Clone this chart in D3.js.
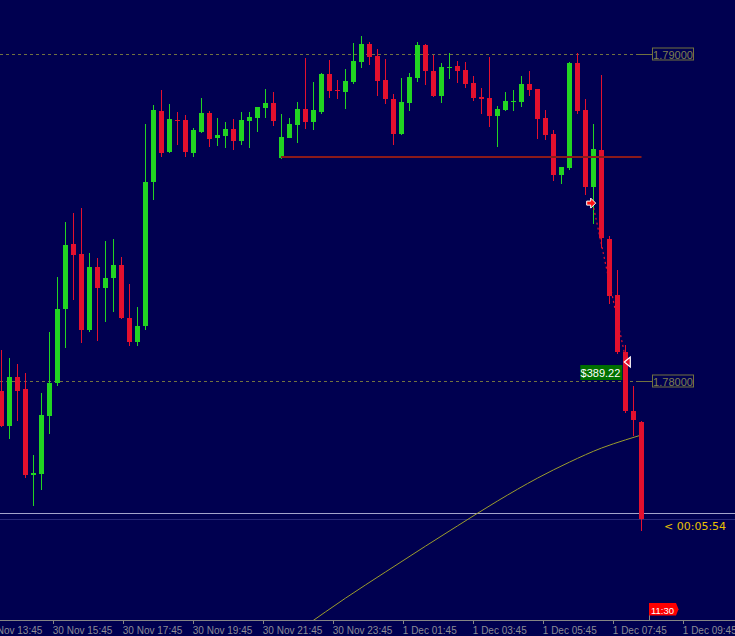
<!DOCTYPE html>
<html>
<head>
<meta charset="utf-8">
<script src="https://cdn.jsdelivr.net/npm/d3@7"></script>
<style>
  html, body { margin: 0; padding: 0; background: #000050; }
  svg { display: block; }
</style>
</head>
<body>
<svg id="chart" width="735" height="636"></svg>
<script>
// bar values, one per candle (oldest first)
const open = [
  1.77969, 1.77862, 1.78012, 1.77976, 1.77712, 1.77716, 1.77893, 1.77994, 1.78220, 1.78419,
  1.78388, 1.78156, 1.78349, 1.78284, 1.78315, 1.78355, 1.78193, 1.78119, 1.78168, 1.78609,
  1.78826, 1.78700, 1.78798, 1.78798, 1.78697, 1.78761, 1.78820, 1.78743, 1.78749, 1.78771,
  1.78734, 1.78795, 1.78804, 1.78835, 1.78850, 1.78682, 1.78743, 1.78783, 1.78832, 1.78792,
  1.78823, 1.78939, 1.78890, 1.78884, 1.78914, 1.78976, 1.79031, 1.78994, 1.78920, 1.78862,
  1.78755, 1.78850, 1.78927, 1.79028, 1.78948, 1.78872, 1.78957, 1.78963, 1.78951, 1.78911,
  1.78869, 1.78865, 1.78810, 1.78829, 1.78853, 1.78853, 1.78908, 1.78893, 1.78804, 1.78755,
  1.78630, 1.78651, 1.78972, 1.78829, 1.78593, 1.78706, 1.78434, 1.78263, 1.78089, 1.77908,
  1.77875
];
const high = [
  1.78095, 1.78070, 1.78052, 1.78024, 1.77774, 1.77963, 1.78150, 1.78318, 1.78486, 1.78514,
  1.78529, 1.78391, 1.78376, 1.78428, 1.78434, 1.78379, 1.78297, 1.78226, 1.78786, 1.78844,
  1.78890, 1.78847, 1.78823, 1.78813, 1.78774, 1.78865, 1.78826, 1.78804, 1.78792, 1.78801,
  1.78823, 1.78823, 1.78838, 1.78893, 1.78884, 1.78817, 1.78804, 1.78853, 1.78988, 1.78914,
  1.78942, 1.78982, 1.78920, 1.78954, 1.79034, 1.79055, 1.79037, 1.79015, 1.78985, 1.78878,
  1.78927, 1.78942, 1.79037, 1.79031, 1.78997, 1.78972, 1.79003, 1.78979, 1.78976, 1.78933,
  1.78896, 1.78991, 1.78841, 1.78884, 1.78890, 1.78933, 1.78948, 1.78893, 1.78829, 1.78768,
  1.78654, 1.78976, 1.79003, 1.78862, 1.78786, 1.78936, 1.78443, 1.78339, 1.78110, 1.77985,
  1.77878
];
const low = [
  1.77859, 1.77823, 1.77878, 1.77703, 1.77618, 1.77667, 1.77838, 1.77985, 1.78101, 1.78248,
  1.78116, 1.78150, 1.78122, 1.78180, 1.78211, 1.78190, 1.78107, 1.78107, 1.78156, 1.78554,
  1.78685, 1.78697, 1.78722, 1.78685, 1.78685, 1.78758, 1.78716, 1.78719, 1.78713, 1.78706,
  1.78722, 1.78713, 1.78761, 1.78804, 1.78780, 1.78679, 1.78743, 1.78728, 1.78771, 1.78768,
  1.78817, 1.78865, 1.78862, 1.78832, 1.78908, 1.78957, 1.78966, 1.78872, 1.78847, 1.78722,
  1.78752, 1.78826, 1.78914, 1.78905, 1.78869, 1.78850, 1.78924, 1.78911, 1.78896, 1.78856,
  1.78817, 1.78777, 1.78716, 1.78826, 1.78826, 1.78838, 1.78872, 1.78740, 1.78737, 1.78612,
  1.78602, 1.78645, 1.78817, 1.78569, 1.78480, 1.78407, 1.78235, 1.78083, 1.77902, 1.77832,
  1.77541
];
const close = [
  1.77862, 1.78012, 1.77969, 1.77713, 1.77719, 1.77896, 1.77994, 1.78220, 1.78416, 1.78385,
  1.78156, 1.78349, 1.78284, 1.78315, 1.78355, 1.78193, 1.78119, 1.78168, 1.78609, 1.78829,
  1.78697, 1.78801, 1.78795, 1.78700, 1.78768, 1.78820, 1.78740, 1.78752, 1.78771, 1.78734,
  1.78798, 1.78807, 1.78838, 1.78850, 1.78795, 1.78746, 1.78786, 1.78832, 1.78792, 1.78829,
  1.78939, 1.78887, 1.78887, 1.78917, 1.78979, 1.79031, 1.78991, 1.78917, 1.78862, 1.78755,
  1.78853, 1.78930, 1.79028, 1.78948, 1.78872, 1.78960, 1.78960, 1.78948, 1.78908, 1.78865,
  1.78862, 1.78810, 1.78832, 1.78856, 1.78856, 1.78908, 1.78890, 1.78801, 1.78752, 1.78630,
  1.78654, 1.78972, 1.78826, 1.78593, 1.78709, 1.78437, 1.78260, 1.78089, 1.77908, 1.77881,
  1.77578
];

// moving average, read at some bars
const maBars = [38, 43, 48, 53, 57, 62, 67, 71, 75, 78, 80];
const maValues = [1.77251, 1.77336, 1.77416, 1.77495, 1.77557, 1.77633, 1.77703, 1.77752, 1.77795, 1.77820, 1.77835];

const gridLevels = [1.79, 1.78];
const supportBars = [35, 80];
const supportPrice = 1.78685;
const askPrice = 1.77596;

// trade: open / close
const tradeBars = [73.9, 78.1];
const tradePrices = [1.78544, 1.78058];
const tradeProfit = '$389.22';

const timeTicks = [
  '2021-11-30 13:45', '2021-11-30 15:45', '2021-11-30 17:45', '2021-11-30 19:45',
  '2021-11-30 21:45', '2021-11-30 23:45', '2021-12-01 01:45', '2021-12-01 03:45',
  '2021-12-01 05:45', '2021-12-01 07:45', '2021-12-01 09:45'
];
const timerText = '< 00:05:54';
const serverTime = '11:30';

const W = 735, H = 636;
const axisY = 620;
const svg = d3.select('#chart');

const parse = d3.timeParse('%Y-%m-%d %H:%M');
const ticks = timeTicks.map(parse);

const x = d3.scaleLinear().domain([0, 80]).range([1.5, 641.5]);
const t = d3.scaleTime().domain([ticks[1], ticks[10]]).range([53.3, 683.3]);
const y = d3.scaleLinear().domain([1.78, 1.79]).range([381, 54]);

const UP = '#22d422', DOWN = '#e3102e', GRID = '#72723f';

svg.append('rect').attr('width', W).attr('height', H).attr('fill', '#000050');

svg.append('clipPath').attr('id', 'plot')
  .append('rect').attr('x', 0).attr('y', 0).attr('width', 646).attr('height', axisY);

// grid levels with price boxes
gridLevels.forEach(v => {
  const yy = Math.round(y(v)) + 0.5;
  svg.append('line')
    .attr('x1', 0).attr('x2', 638).attr('y1', yy).attr('y2', yy)
    .attr('stroke', GRID).attr('stroke-dasharray', '3,3');
  svg.append('line')
    .attr('x1', 638).attr('x2', 652).attr('y1', yy).attr('y2', yy)
    .attr('stroke', GRID);
  svg.append('rect')
    .attr('x', 652.5).attr('y', yy - 6.5).attr('width', 41).attr('height', 12)
    .attr('fill', 'none').attr('stroke', GRID);
  svg.append('text')
    .attr('x', 673).attr('y', yy + 4)
    .attr('text-anchor', 'middle')
    .attr('font-family', 'Liberation Sans, Arial, sans-serif')
    .attr('font-size', 11)
    .attr('fill', '#7f7f50')
    .text(d3.format('.5f')(v));
});

// ask / bid lines
svg.append('line')
  .attr('x1', 0).attr('x2', W).attr('y1', Math.round(y(askPrice)) + 0.5).attr('y2', Math.round(y(askPrice)) + 0.5)
  .attr('stroke', '#a4a4cc');
svg.append('line')
  .attr('x1', 0).attr('x2', W).attr('y1', Math.round(y(close[80])) + 0.5).attr('y2', Math.round(y(close[80])) + 0.5)
  .attr('stroke', '#28287a');

// moving average
const ma = maBars.map((b, i) => [b, maValues[i]]);
svg.append('path')
  .datum(ma)
  .attr('clip-path', 'url(#plot)')
  .attr('fill', 'none')
  .attr('stroke', '#9c9c2c')
  .attr('stroke-width', 1)
  .attr('d', d3.line().x(d => x(d[0])).y(d => y(d[1])).curve(d3.curveMonotoneX));

// candles
const bars = d3.range(open.length);
const g = svg.append('g').attr('clip-path', 'url(#plot)').attr('shape-rendering', 'crispEdges');
g.selectAll('line.wick')
  .data(bars)
  .join('line')
    .attr('class', 'wick')
    .attr('x1', i => x(i)).attr('x2', i => x(i))
    .attr('y1', i => y(high[i])).attr('y2', i => y(low[i]))
    .attr('stroke', i => close[i] >= open[i] ? UP : DOWN);
g.selectAll('rect.body')
  .data(bars)
  .join('rect')
    .attr('class', 'body')
    .attr('x', i => x(i) - 2.5)
    .attr('width', 5)
    .attr('y', i => y(Math.max(open[i], close[i])))
    .attr('height', i => Math.max(1, Math.abs(y(open[i]) - y(close[i]))))
    .attr('fill', i => close[i] >= open[i] ? UP : DOWN);

// support line
svg.append('line')
  .attr('x1', x(supportBars[0]) - 0.5).attr('x2', x(supportBars[1]))
  .attr('y1', y(supportPrice)).attr('y2', y(supportPrice))
  .attr('stroke', '#8b1a1a').attr('stroke-width', 2);

// trade
const p0 = [x(tradeBars[0]), y(tradePrices[0])];
const p1 = [x(tradeBars[1]), y(tradePrices[1])];
svg.append('line')
  .attr('x1', p0[0]).attr('y1', p0[1]).attr('x2', p1[0]).attr('y2', p1[1])
  .attr('stroke', DOWN).attr('stroke-width', 1.2).attr('stroke-dasharray', '2,3');
svg.append('path')
  .attr('d', `M${p0[0] - 6},${p0[1] - 2} h4 v-3 l5,5 l-5,5 v-3 h-4 z`)
  .attr('fill', '#ff1010').attr('stroke', '#fff').attr('stroke-width', 1);
svg.append('path')
  .attr('d', `M${p1[0] - 2},${p1[1]} l6,-5 v10 z`)
  .attr('fill', DOWN).attr('stroke', '#fff').attr('stroke-width', 1.2);
svg.append('rect')
  .attr('x', p1[0] - 46).attr('y', p1[1] + 3).attr('width', 42).attr('height', 15)
  .attr('fill', '#007000');
svg.append('text')
  .attr('x', p1[0] - 6).attr('y', p1[1] + 14.5)
  .attr('text-anchor', 'end')
  .attr('font-family', 'Liberation Sans, Arial, sans-serif')
  .attr('font-size', 11)
  .attr('fill', '#fff')
  .text(tradeProfit);

// time axis
const axis = svg.append('g')
  .attr('transform', `translate(0,${axisY})`)
  .call(d3.axisBottom(t).tickValues(ticks).tickFormat(d3.timeFormat('%-d %b %H:%M')).tickSize(4).tickSizeOuter(0));
axis.select('.domain').remove();
axis.selectAll('.tick line').attr('stroke', '#858585').attr('shape-rendering', 'crispEdges');
axis.selectAll('.tick text')
  .attr('text-anchor', 'start')
  .attr('x', -1)
  .attr('y', 7)
  .attr('fill', '#8c8c94')
  .attr('font-family', 'Liberation Sans, Arial, sans-serif')
  .attr('font-size', 10);
svg.append('line')
  .attr('x1', 0).attr('x2', W).attr('y1', axisY + 0.5).attr('y2', axisY + 0.5)
  .attr('stroke', '#858585');

// server time marker
svg.append('line')
  .attr('x1', 649.5).attr('x2', 649.5).attr('y1', 603).attr('y2', axisY)
  .attr('stroke', '#858585');
svg.append('path')
  .attr('d', 'M649,603 H676 L678.5,609.25 L676,615.5 H649 Z')
  .attr('fill', '#ff0000');
svg.append('text')
  .attr('x', 651).attr('y', 613.5)
  .attr('font-family', 'Liberation Sans, Arial, sans-serif')
  .attr('font-size', 9.5)
  .attr('fill', '#fff')
  .text(serverTime);

// bar timer
svg.append('text')
  .attr('x', 664).attr('y', 530)
  .attr('font-family', 'DejaVu Sans, sans-serif')
  .attr('font-size', 11)
  .attr('fill', '#e8c000')
  .text(timerText);
</script>
</body>
</html>
